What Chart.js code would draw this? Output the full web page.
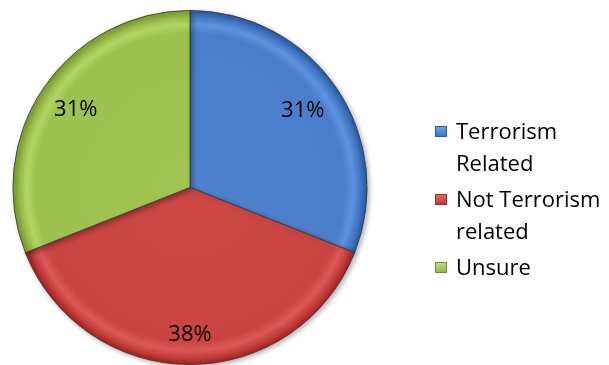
<!DOCTYPE html>
<html lang="en">
<head>
    <meta charset="UTF-8">
    <title>Terrorism poll</title>
    <style>
        body {
            margin: 0;
            padding: 0;
            background: #ffffff;
        }

        #wrap {
            width: 609px;
            height: 365px;
        }
    </style>
</head>
<body>
    <div id="wrap"><canvas id="pieChart"></canvas></div>

    <script src="https://cdn.jsdelivr.net/npm/chart.js"></script>
    <script>
        const labels = [['Terrorism', 'Related'], ['Not Terrorism', 'related'], ['Unsure']];
        const values = [31, 38, 31];
        const colors = ['#4a7ecb', '#c94442', '#9dc04f'];
        const edges = ['#2f5c9a', '#983030', '#6f8d33'];
        const FONT = '"Open Sans", Lato, sans-serif';

        function shade(hex, amt) {
            var n = parseInt(hex.slice(1), 16);
            var r = Math.min(255, Math.max(0, (n >> 16) + amt));
            var g = Math.min(255, Math.max(0, ((n >> 8) & 255) + amt));
            var b = Math.min(255, Math.max(0, (n & 255) + amt));
            return 'rgb(' + r + ',' + g + ',' + b + ')';
        }

        // radial gradient per slice to fake the bevelled rim
        function sliceFill(context) {
            var chart = context.chart;
            var area = chart.chartArea;
            var base = colors[context.dataIndex];
            if (!area) return base;
            var cx = (area.left + area.right) / 2;
            var cy = (area.top + area.bottom) / 2;
            var r = Math.min(area.right - area.left, area.bottom - area.top) / 2;
            var g = chart.ctx.createRadialGradient(cx, cy, 0, cx, cy, r);
            g.addColorStop(0, shade(base, 4));
            g.addColorStop(0.87, base);
            g.addColorStop(0.92, shade(base, 20));
            g.addColorStop(0.96, shade(base, -6));
            g.addColorStop(1, shade(base, -38));
            return g;
        }

        const shadow = {
            id: 'shadow',
            beforeDatasetsDraw(chart) {
                var ctx = chart.ctx;
                ctx.save();
                ctx.shadowColor = 'rgba(0,0,0,0.3)';
                ctx.shadowBlur = 5;
                ctx.shadowOffsetX = 2;
                ctx.shadowOffsetY = 2;
            },
            afterDatasetsDraw(chart) {
                chart.ctx.restore();
            }
        };

        // percentage labels inside each slice
        const sliceLabels = {
            id: 'sliceLabels',
            afterDatasetsDraw(chart) {
                var ctx = chart.ctx;
                var meta = chart.getDatasetMeta(0);
                var reach = [0.77, 0.83, 0.78];
                ctx.save();
                ctx.font = '22px ' + FONT;
                ctx.fillStyle = '#000000';
                ctx.textAlign = 'center';
                ctx.textBaseline = 'middle';
                meta.data.forEach(function (arc, i) {
                    var mid = (arc.startAngle + arc.endAngle) / 2;
                    var r = arc.outerRadius * reach[i];
                    ctx.fillText(values[i] + '%', arc.x + Math.cos(mid) * r, arc.y + Math.sin(mid) * r);
                });
                ctx.restore();
            }
        };

        // legend on the right with wrapped labels
        const sideLegend = {
            id: 'sideLegend',
            afterDraw(chart) {
                var ctx = chart.ctx;
                var x = 435, y = 133, line = 32;
                ctx.save();
                ctx.font = '22px ' + FONT;
                ctx.textBaseline = 'middle';
                labels.forEach(function (lab, i) {
                    var g = ctx.createLinearGradient(0, y - 6, 0, y + 6);
                    g.addColorStop(0, shade(colors[i], 35));
                    g.addColorStop(1, shade(colors[i], -25));
                    ctx.fillStyle = g;
                    ctx.fillRect(x, y - 7, 12, 11);
                    ctx.strokeStyle = edges[i];
                    ctx.lineWidth = 1;
                    ctx.strokeRect(x + 0.5, y - 6.5, 11, 10);
                    ctx.fillStyle = '#000000';
                    lab.forEach(function (t) {
                        ctx.fillText(t, x + 21, y);
                        y += line;
                    });
                    y += 4;
                });
                ctx.restore();
            }
        };

        var ctx = document.getElementById('pieChart').getContext('2d');

        var pieChart = new Chart(ctx, {
            type: 'pie',
            data: {
                labels: labels.map(function (l) { return l.join(' '); }),
                datasets: [{
                    data: values,
                    backgroundColor: sliceFill,
                    borderColor: '#3a3a3a',
                    borderWidth: 0.8
                }]
            },
            options: {
                responsive: true,
                maintainAspectRatio: false,
                animation: false,
                layout: {
                    padding: { left: 12, top: 10, right: 241, bottom: 0 }
                },
                plugins: {
                    legend: { display: false },
                    tooltip: { enabled: false }
                }
            },
            plugins: [shadow, sliceLabels, sideLegend]
        });
    </script>
</body>
</html>
